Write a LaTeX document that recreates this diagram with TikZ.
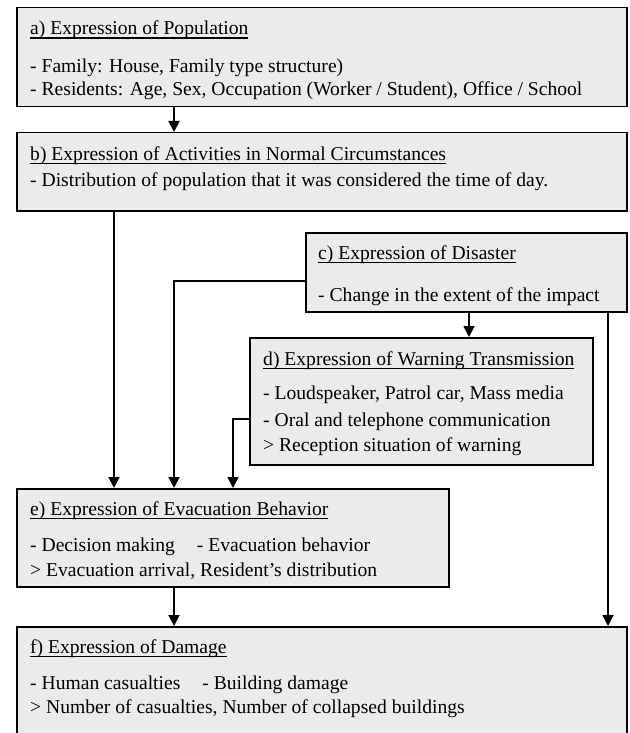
\documentclass[tikz,border=0pt]{standalone}
\usepackage{fontspec}
\setmainfont{Liberation Serif}
\usetikzlibrary{arrows.meta}
\definecolor{boxgray}{HTML}{EBEBEB}
\newsavebox\ulbox
\newcommand\ulin[1]{\sbox\ulbox{#1}\rlap{\rule[-3.6pt]{\wd\ulbox}{1.1pt}}\usebox\ulbox}
\begin{document}
\begin{tikzpicture}[x=1pt,y=-1pt,
  boxnode/.style={draw, fill=boxgray, line width=1.5pt, rectangle, inner sep=0pt, anchor=north west},
  txt/.style={anchor=base west, inner sep=0pt, font=\fontsize{19.6}{22}\selectfont},
  arr/.style={line width=1.8pt, line join=miter, -{Triangle[length=11pt,width=11pt]}}]
\useasboundingbox (0,0) rectangle (629,733);
% boxes
\node[boxnode, minimum width=610pt, minimum height=99pt] (a) at (16,7) {};
\node[boxnode, minimum width=610pt, minimum height=78pt] (b) at (16,132) {};
\node[boxnode, minimum width=321pt, minimum height=79pt] (c) at (305,232) {};
\node[boxnode, minimum width=343pt, minimum height=127pt] (d) at (249,337) {};
\node[boxnode, minimum width=432pt, minimum height=98pt] (e) at (16,488) {};
\node[boxnode, minimum width=610pt, minimum height=140pt] (f) at (16,626) {};
% texts
\node[txt] (a0) at (30,35) {\ulin{a) Expression of Population}};
\node[txt] (a1) at (30,73) {- Family: House, Family type structure)};
\node[txt] (a2) at (30,96) {- Residents: Age, Sex, Occupation (Worker / Student), Office / School};
\node[txt] (b0) at (30,160) {\ulin{b) Expression of Activities in Normal Circumstances}};
\node[txt] (b1) at (30,186) {- Distribution of population that it was considered the time of day.};
\node[txt] (c0) at (318,259) {\ulin{c) Expression of Disaster}};
\node[txt] (c1) at (318,301) {- Change in the extent of the impact};
\node[txt] (d0) at (263,365) {\ulin{d) Expression of Warning Transmission}};
\node[txt] (d1) at (263,399) {- Loudspeaker, Patrol car, Mass media};
\node[txt] (d2) at (263,426) {- Oral and telephone communication};
\node[txt] (d3) at (263,451) {> Reception situation of warning};
\node[txt] (e0) at (30,515) {\ulin{e) Expression of Evacuation Behavior}};
\node[txt] (e1) at (30,551) {- Decision making\hspace{22pt}- Evacuation behavior};
\node[txt] (e2) at (30,576) {> Evacuation arrival, Resident’s distribution};
\node[txt] (f0) at (30,653) {\ulin{f) Expression of Damage}};
\node[txt] (f1) at (30,689) {- Human casualties\hspace{22pt}- Building damage};
\node[txt] (f2) at (30,713) {> Number of casualties, Number of collapsed buildings};
% connector helper coordinates
\coordinate (xab) at (174,0);
\coordinate (xbe) at (114,0);
\coordinate (ce) at (174,281);
\coordinate (de) at (233,419);
\coordinate (xcd) at (469,0);
\coordinate (xcf) at (608,0);
% connectors
\draw[arr] (a.south -| xab) -- (b.north -| xab);
\draw[arr] (b.south -| xbe) -- (e.north -| xbe);
\draw[arr] (c.west |- ce) -| (e.north -| ce);
\draw[arr] (d.west |- de) -| (e.north -| de);
\draw[arr] (c.south -| xcd) -- (d.north -| xcd);
\draw[arr] (c.south -| xcf) -- (f.north -| xcf);
\draw[arr] (e.south -| xab) -- (f.north -| xab);
\end{tikzpicture}
\end{document}
